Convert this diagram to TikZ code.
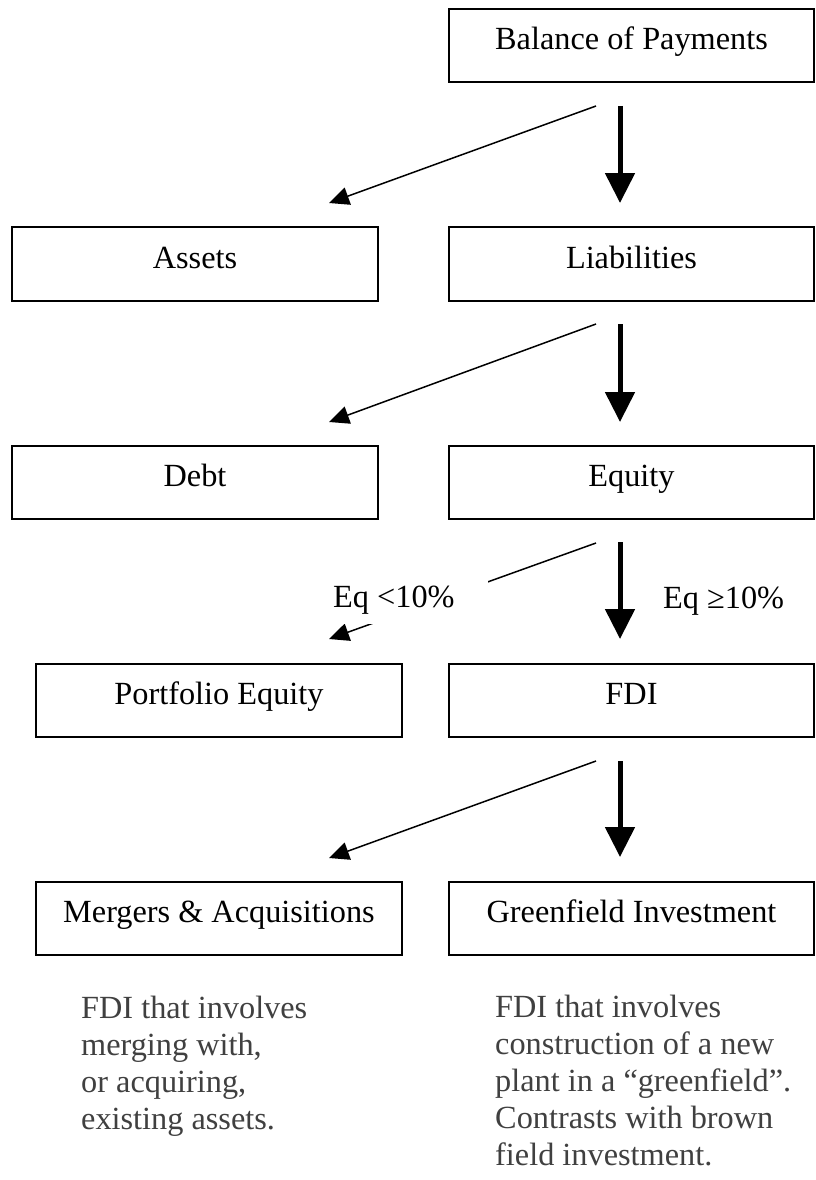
\documentclass[tikz,border=0pt]{standalone}
\usepackage{fontspec}
\setmainfont{Liberation Serif}
\usetikzlibrary{arrows.meta}
\definecolor{notegray}{RGB}{64,64,64}
\begin{document}
\begin{tikzpicture}[x=1pt,y=-1pt,
  box/.style={draw, line width=1.5pt, minimum width=365pt, minimum height=73pt, inner sep=0pt,
    font=\fontsize{32.3}{37}\selectfont, text height=22.6pt, text depth=14.5pt},
  thickarrow/.style={line width=5pt, -{Triangle[length=30pt,width=29pt]}},
  thinarrow/.style={line width=1.5pt, -{Triangle[length=20pt,width=18pt]}},
  note/.style={font=\fontsize{32.3}{37}\selectfont, text=notegray, align=left, anchor=north west, inner sep=0pt},
  lab/.style={font=\fontsize{32.3}{37}\selectfont, anchor=base west, inner sep=0pt}]
\fill[white] (0,0) rectangle (815,1180);
\useasboundingbox (0,0) rectangle (815,1180);

% boxes
\node[box] (bop) at (631.5,45.5) {Balance of Payments};
\node[box, minimum width=366pt, minimum height=74pt] (assets) at (195,264) {Assets};
\node[box, minimum height=74pt] (liab) at (631.5,264) {Liabilities};
\node[box, minimum width=366pt] (debt) at (195,482.5) {Debt};
\node[box] (equity) at (631.5,482.5) {Equity};
\node[box, minimum width=366pt] (port) at (219,700.5) {Portfolio Equity};
\node[box] (fdi) at (631.5,700.5) {FDI};
\node[box, minimum width=366pt] (ma) at (219,918.5) {Mergers \& Acquisitions};
\node[box] (gf) at (631.5,918.5) {Greenfield Investment};

% arrow end points
\coordinate (ts1) at (620,106); \coordinate (te1) at (620,203);
\coordinate (ts2) at (620,324); \coordinate (te2) at (620,422);
\coordinate (ts3) at (620,542); \coordinate (te3) at (620,639);
\coordinate (ts4) at (620,761); \coordinate (te4) at (620,857);
\coordinate (ds1) at (596,106); \coordinate (de1) at (329,203);
\coordinate (ds2) at (596,324); \coordinate (de2) at (329,422);
\coordinate (ds3) at (596,543); \coordinate (de3) at (329,639);
\coordinate (ds4) at (596,761); \coordinate (de4) at (329,858);

\draw[thickarrow] (ts1) -- (te1);
\draw[thickarrow] (ts2) -- (te2);
\draw[thickarrow] (ts3) -- (te3);
\draw[thickarrow] (ts4) -- (te4);
\draw[thinarrow] (ds1) -- (de1);
\draw[thinarrow] (ds2) -- (de2);
\draw[thinarrow] (ds3) -- (de3);
\draw[thinarrow] (ds4) -- (de4);

% label box hiding part of the arrow
\node[fill=white, minimum width=165pt, minimum height=56pt, inner sep=0pt] (mask) at (405,596) {};
\node[lab] (eqlt) at (333,607) {Eq <10\%};
\node[lab] (eqge) at (663,608) {Eq ≥10\%};

% notes
\node[note] (nl) at (81,996) {FDI that involves\\merging with,\\or acquiring,\\existing assets.};
\node[note] (nr) at (495,995) {FDI that involves\\construction of a new\\plant in a “greenfield”.\\Contrasts with brown\\field investment.};
\end{tikzpicture}
\end{document}
